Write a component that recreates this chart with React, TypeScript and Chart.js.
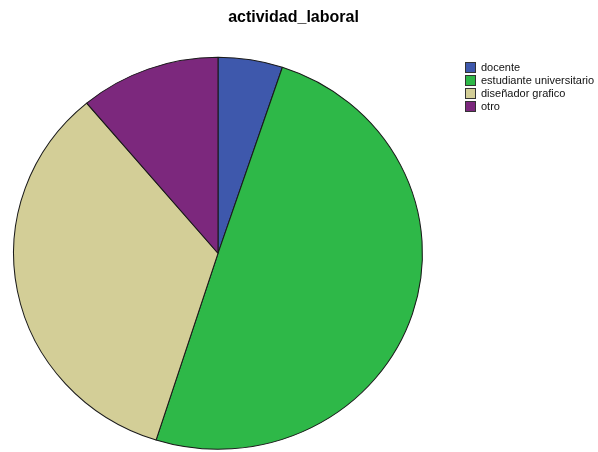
import React, { useEffect, useRef } from "react";
import { Chart, registerables } from "chart.js";

Chart.register(...registerables);

const categories = ["docente", "estudiante universitario", "diseñador grafico", "otro"];
const percents = [5.1, 49.8, 34.0, 11.1];
const colors = ["#3E58AC", "#2EB848", "#D3CE97", "#7C287D"];
const titleText = "actividad_laboral";

const FONT = "'Liberation Sans', Arial, Helvetica, sans-serif";

const stretchPlugin = {
  id: "stretch",
  afterLayout(chart: any) {
    const t = chart.titleBlock;
    if (t) {
      t.left = 0;
      t.right = 587;
      t.width = 587;
    }
  },
  beforeDatasetsDraw(chart: any) {
    const arc = chart.getDatasetMeta(0).data[0];
    const ctx = chart.ctx;
    ctx.save();
    ctx.translate(arc.x, arc.y);
    ctx.scale(1.043, 1);
    ctx.translate(-arc.x, -arc.y);
  },
  afterDatasetsDraw(chart: any) {
    chart.ctx.restore();
  },
};

const legendPlugin = {
  id: "spssLegend",
  afterDraw(chart: any) {
    const ctx = chart.ctx;
    const labels = chart.data.labels as string[];
    const bg = chart.data.datasets[0].backgroundColor as string[];
    const x0 = 465;
    const y0 = 61.5;
    const step = 13.3;
    ctx.save();
    ctx.font = `11px ${FONT}`;
    ctx.textBaseline = "middle";
    ctx.textAlign = "left";
    labels.forEach((lab, i) => {
      const y = Math.round(y0 + i * step);
      ctx.fillStyle = bg[i];
      ctx.fillRect(x0, y, 10, 10);
      ctx.strokeStyle = "#333333";
      ctx.lineWidth = 1;
      ctx.strokeRect(x0 + 0.5, y + 0.5, 10, 10);
      ctx.fillStyle = "#111111";
      ctx.fillText(lab, x0 + 16, y + 5.5);
    });
    ctx.restore();
  },
};

export default function App() {
  const ref = useRef<HTMLCanvasElement>(null);
  useEffect(() => {
    document.body.style.margin = "0";
    const chart = new Chart(ref.current!, {
      type: "pie",
      data: {
        labels: categories,
        datasets: [
          {
            data: percents,
            backgroundColor: colors,
            borderColor: "#1a1a1a",
            borderWidth: 1,
          },
        ],
      },
      options: {
        responsive: false,
        animation: false,
        devicePixelRatio: 1,
        layout: { padding: { left: 13, right: 175, top: 0, bottom: 2.2 } },
        plugins: {
          legend: { display: false },
          tooltip: { enabled: false },
          title: {
            display: true,
            text: titleText,
            color: "#000000",
            font: { family: FONT, size: 16, weight: "bold" },
            padding: { top: 8, bottom: 29.6 },
          },
        },
      },
      plugins: [stretchPlugin, legendPlugin],
    });
    return () => chart.destroy();
  }, []);
  return (
    <div style={{ width: 598, height: 452, background: "#fff" }}>
      <canvas ref={ref} width={598} height={452} style={{ display: "block" }} />
    </div>
  );
}
